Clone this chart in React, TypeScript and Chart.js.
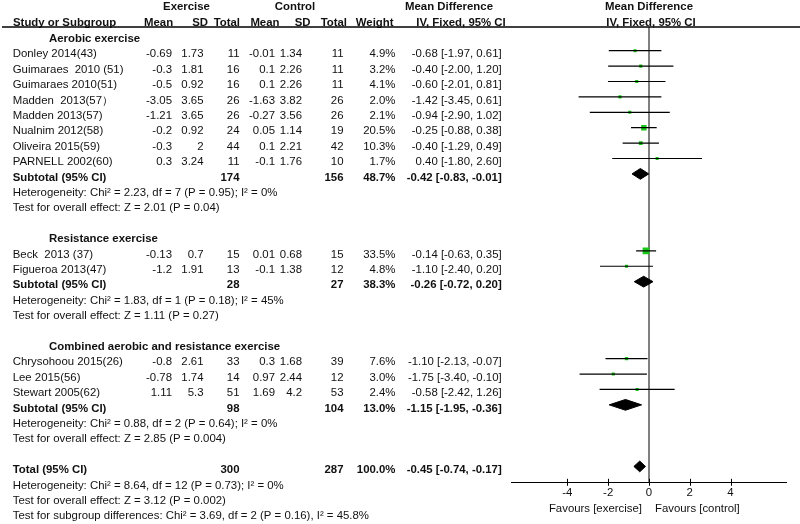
import React, { useEffect, useRef } from 'react';
import { Chart, registerables } from 'chart.js';

Chart.register(...registerables);

// ---------- data ----------
const groupNames = ['Aerobic exercise', 'Resistance exercise', 'Combined aerobic and resistance exercise'];

const studyNames = [
  'Donley 2014(43)',
  'Guimaraes  2010 (51)',
  'Guimaraes 2010(51)',
  'Madden  2013(57）',
  'Madden 2013(57)',
  'Nualnim 2012(58)',
  'Oliveira 2015(59)',
  'PARNELL 2002(60)',
  'Beck  2013 (37)',
  'Figueroa 2013(47)',
  'Chrysohoou 2015(26)',
  'Lee 2015(56)',
  'Stewart 2005(62)',
];
const studyGroup = [0, 0, 0, 0, 0, 0, 0, 0, 1, 1, 2, 2, 2];
const expMean = [-0.69, -0.3, -0.5, -3.05, -1.21, -0.2, -0.3, 0.3, -0.13, -1.2, -0.8, -0.78, 1.11];
const expSD = [1.73, 1.81, 0.92, 3.65, 3.65, 0.92, 2, 3.24, 0.7, 1.91, 2.61, 1.74, 5.3];
const expN = [11, 16, 16, 26, 26, 24, 44, 11, 15, 13, 33, 14, 51];
const ctlMean = [-0.01, 0.1, 0.1, -1.63, -0.27, 0.05, 0.1, -0.1, 0.01, -0.1, 0.3, 0.97, 1.69];
const ctlSD = [1.34, 2.26, 2.26, 3.82, 3.56, 1.14, 2.21, 1.76, 0.68, 1.38, 1.68, 2.44, 4.2];
const ctlN = [11, 11, 11, 26, 26, 19, 42, 10, 15, 12, 39, 12, 53];
const weight = [4.9, 3.2, 4.1, 2.0, 2.1, 20.5, 10.3, 1.7, 33.5, 4.8, 7.6, 3.0, 2.4];
const md = [-0.68, -0.4, -0.6, -1.42, -0.94, -0.25, -0.4, 0.4, -0.14, -1.1, -1.1, -1.75, -0.58];
const ciLow = [-1.97, -2.0, -2.01, -3.45, -2.9, -0.88, -1.29, -1.8, -0.63, -2.4, -2.13, -3.4, -2.42];
const ciHigh = [0.61, 1.2, 0.81, 0.61, 1.02, 0.38, 0.49, 2.6, 0.35, 0.2, -0.07, -0.1, 1.26];

const subExpN = [174, 28, 98];
const subCtlN = [156, 27, 104];
const subWeight = [48.7, 38.3, 13.0];
const subMd = [-0.42, -0.26, -1.15];
const subLow = [-0.83, -0.72, -1.95];
const subHigh = [-0.01, 0.2, -0.36];
const subHeterogeneity = [
  'Heterogeneity: Chi² = 2.23, df = 7 (P = 0.95); I² = 0%',
  'Heterogeneity: Chi² = 1.83, df = 1 (P = 0.18); I² = 45%',
  'Heterogeneity: Chi² = 0.88, df = 2 (P = 0.64); I² = 0%',
];
const subOverall = [
  'Test for overall effect: Z = 2.01 (P = 0.04)',
  'Test for overall effect: Z = 1.11 (P = 0.27)',
  'Test for overall effect: Z = 2.85 (P = 0.004)',
];

const totalExpN = 300;
const totalCtlN = 287;
const totalWeight = 100.0;
const totalMd = -0.45;
const totalLow = -0.74;
const totalHigh = -0.17;
const totalNotes = [
  'Heterogeneity: Chi² = 8.64, df = 12 (P = 0.73); I² = 0%',
  'Test for overall effect: Z = 3.12 (P = 0.002)',
  'Test for subgroup differences: Chi² = 3.69, df = 2 (P = 0.16), I² = 45.8%',
];

const xTicks = [-4, -2, 0, 2, 4];
const favourLeft = 'Favours [exercise]';
const favourRight = 'Favours [control]';

// ---------- layout of rows (derived) ----------
type Row = { kind: 'group' | 'study' | 'subtotal' | 'note' | 'total' | 'blank'; idx?: number; text?: string };
const rows: Row[] = [];
groupNames.forEach((_, gi) => {
  rows.push({ kind: 'group', idx: gi });
  studyNames.forEach((__, si) => {
    if (studyGroup[si] === gi) rows.push({ kind: 'study', idx: si });
  });
  rows.push({ kind: 'subtotal', idx: gi });
  rows.push({ kind: 'note', text: subHeterogeneity[gi] });
  rows.push({ kind: 'note', text: subOverall[gi] });
  rows.push({ kind: 'blank' });
});
rows.push({ kind: 'total' });
totalNotes.forEach((t) => rows.push({ kind: 'note', text: t }));

const rowOf = (kind: string, idx?: number) => rows.findIndex((r) => r.kind === kind && (idx === undefined || r.idx === idx));

const FONT = '"Liberation Sans", Arial, Helvetica, sans-serif';
const FS = 11.4;
const TEXT = '#111';
const GREEN = '#19c819';
const DIAMOND_H = 0.35;

const fmt2 = (v: number) => v.toFixed(2);
const ciText = (m: number, l: number, h: number) => `${fmt2(m)} [${fmt2(l)}, ${fmt2(h)}]`;

const forestText = {
  id: 'forestText',
  afterDraw(chart: any) {
    const ctx: CanvasRenderingContext2D = chart.ctx;
    const ys = chart.scales.y;
    const xs = chart.scales.x;
    const area = chart.chartArea;
    const rowY = (r: number) => ys.getPixelForValue(r) + 3.6;
    const put = (s: string, x: number, y: number, align: CanvasTextAlign, bold = false) => {
      ctx.font = `${bold ? 'bold ' : ''}${FS}px ${FONT}`;
      ctx.fillStyle = TEXT;
      ctx.textAlign = align;
      ctx.textBaseline = 'middle';
      ctx.fillText(s, x, y);
    };
    ctx.save();
    // header
    const h1 = 6.6;
    const h2 = 22.6;
    put('Exercise', 186.5, h1, 'center', true);
    put('Control', 295, h1, 'center', true);
    put('Mean Difference', 449, h1, 'center', true);
    put('Mean Difference', 649, h1, 'center', true);
    put('Study or Subgroup', 13, h2, 'left', true);
    put('Mean', 144, h2, 'left', true);
    put('SD', 208, h2, 'right', true);
    put('Total', 240, h2, 'right', true);
    put('Mean', 279.5, h2, 'right', true);
    put('SD', 310.5, h2, 'right', true);
    put('Total', 347, h2, 'right', true);
    put('Weight', 393.5, h2, 'right', true);
    put('IV, Fixed, 95% CI', 461, h2, 'center', true);
    put('IV, Fixed, 95% CI', 651, h2, 'center', true);
    ctx.strokeStyle = '#000';
    ctx.lineWidth = 1.5;
    ctx.beginPath();
    ctx.moveTo(2, area.top);
    ctx.lineTo(800, area.top);
    ctx.stroke();

    const cols = [172, 203.5, 239.5, 275, 302, 343.5, 395.5, 501.7];
    rows.forEach((r, ri) => {
      const y = rowY(ri);
      if (r.kind === 'group') put(groupNames[r.idx!], 49, y, 'left', true);
      else if (r.kind === 'study') {
        const i = r.idx!;
        put(studyNames[i], 12.7, y, 'left');
        put(String(expMean[i]), cols[0], y, 'right');
        put(String(expSD[i]), cols[1], y, 'right');
        put(String(expN[i]), cols[2], y, 'right');
        put(String(ctlMean[i]), cols[3], y, 'right');
        put(String(ctlSD[i]), cols[4], y, 'right');
        put(String(ctlN[i]), cols[5], y, 'right');
        put(weight[i].toFixed(1) + '%', cols[6], y, 'right');
        put(ciText(md[i], ciLow[i], ciHigh[i]), cols[7], y, 'right');
      } else if (r.kind === 'subtotal') {
        const g = r.idx!;
        put('Subtotal (95% CI)', 12.7, y, 'left', true);
        put(String(subExpN[g]), cols[2], y, 'right', true);
        put(String(subCtlN[g]), cols[5], y, 'right', true);
        put(subWeight[g].toFixed(1) + '%', cols[6], y, 'right', true);
        put(ciText(subMd[g], subLow[g], subHigh[g]), cols[7], y, 'right', true);
      } else if (r.kind === 'total') {
        put('Total (95% CI)', 12.7, y, 'left', true);
        put(String(totalExpN), cols[2], y, 'right', true);
        put(String(totalCtlN), cols[5], y, 'right', true);
        put(totalWeight.toFixed(1) + '%', cols[6], y, 'right', true);
        put(ciText(totalMd, totalLow, totalHigh), cols[7], y, 'right', true);
      } else if (r.kind === 'note') {
        put(r.text!, 12.7, y, 'left');
      }
    });

    // tick marks across the axis
    ctx.strokeStyle = '#000';
    ctx.lineWidth = 1;
    xs.ticks.forEach((t: any) => {
      const px = Math.round(xs.getPixelForValue(t.value)) + 0.5;
      ctx.beginPath();
      ctx.moveTo(px, area.bottom - 3.5);
      ctx.lineTo(px, area.bottom + 3.5);
      ctx.stroke();
    });
    const zx = xs.getPixelForValue(0);
    put(favourLeft, zx - 7, 509, 'right');
    put(favourRight, zx + 6, 509, 'left');
    ctx.restore();
  },
};

export default function App() {
  const ref = useRef<HTMLCanvasElement | null>(null);
  useEffect(() => {
    document.body.style.margin = '0';
    const canvas = ref.current!;
    const datasets: any[] = [];
    // CI lines
    studyNames.forEach((_, i) => {
      const r = rowOf('study', i);
      datasets.push({
        data: [{ x: ciLow[i], y: r }, { x: ciHigh[i], y: r }],
        showLine: true,
        borderColor: '#000',
        borderWidth: 1.2,
        pointRadius: 0,
        fill: false,
      });
    });
    // squares
    datasets.push({
      data: studyNames.map((_, i) => ({ x: md[i], y: rowOf('study', i) })),
      pointStyle: 'rect',
      pointRadius: weight.map((w) => Math.max(2.2, 0.85 * Math.sqrt(w))),
      backgroundColor: GREEN,
      borderWidth: 0,
      showLine: false,
    });
    // diamonds
    const diamond = (r: number, m: number, l: number, h: number) => ({
      data: [
        { x: l, y: r },
        { x: m, y: r - DIAMOND_H },
        { x: h, y: r },
        { x: m, y: r + DIAMOND_H },
        { x: l, y: r },
      ],
      showLine: true,
      fill: 'shape',
      backgroundColor: '#000',
      borderColor: '#000',
      borderWidth: 1,
      pointRadius: 0,
      tension: 0,
    });
    groupNames.forEach((_, g) => datasets.push(diamond(rowOf('subtotal', g), subMd[g], subLow[g], subHigh[g])));
    datasets.push(diamond(rowOf('total'), totalMd, totalLow, totalHigh));

    const chart = new Chart(canvas, {
      type: 'scatter',
      data: { datasets },
      options: {
        responsive: false,
        animation: false,
        devicePixelRatio: 1,
        layout: { padding: { left: 511.7, right: 14, top: 27, bottom: 0 } },
        plugins: { legend: { display: false }, tooltip: { enabled: false } },
        scales: {
          x: {
            type: 'linear',
            min: -6.73,
            max: 6.72,
            afterBuildTicks: (s: any) => {
              s.ticks = xTicks.map((v) => ({ value: v }));
            },
            afterFit: (s: any) => {
              s.height = 41.7;
            },
            grid: {
              drawTicks: false,
              color: (c: any) => (c.tick && c.tick.value === 0 ? '#808080' : 'rgba(0,0,0,0)'),
              lineWidth: (c: any) => (c.tick && c.tick.value === 0 ? 2 : 1),
            },
            border: { display: true, color: '#000', width: 1 },
            ticks: {
              autoSkip: false,
              maxRotation: 0,
              padding: 4,
              color: TEXT,
              font: { family: FONT, size: FS },
              callback: (v: any) => String(v),
            },
          },
          y: {
            type: 'linear',
            display: false,
            reverse: true,
            min: -0.539,
            max: 29.03,
          },
        },
      },
      plugins: [forestText],
    } as any);
    return () => chart.destroy();
  }, []);
  return <canvas ref={ref} width={800} height={524} style={{ display: 'block' }} />;
}
